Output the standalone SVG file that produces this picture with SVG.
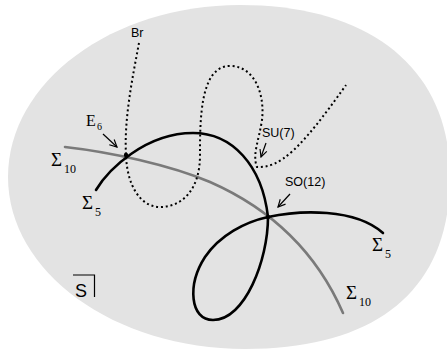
<svg xmlns="http://www.w3.org/2000/svg" width="447" height="352" viewBox="0 0 447 352">
<style>
.bg{fill:#e3e3e3;stroke:none}
.s5{fill:none;stroke:#000;stroke-width:2.6;stroke-linecap:round;stroke-linejoin:round}
.s10{fill:none;stroke:#7a7a7a;stroke-width:2.6;stroke-linecap:round}
.br{fill:none;stroke:#000;stroke-width:2;stroke-dasharray:2 2.8}
.arr{fill:none;stroke:#000;stroke-width:1.2}
.sig{font-family:"Liberation Serif",serif;font-size:19px;fill:#000}
.sub{font-family:"Liberation Serif",serif;font-size:12px;fill:#000}
.lab{font-family:"Liberation Sans",Arial,sans-serif;font-size:12.5px;fill:#000}
</style>
<defs>
<marker id="ah" viewBox="0 0 10 10" refX="9" refY="5" markerWidth="9" markerHeight="9" markerUnits="userSpaceOnUse" orient="auto">
<path d="M1,1 L9,5 L1,9" fill="none" stroke="#000" stroke-width="1.3"/>
</marker>
</defs>
<path class="bg" d="M8,177 C8,82 112,5 240,5 C372,5 450,70 450,177 C450,289 378,349 245,349 C114,349 8,272 8,177 Z"/>
<g id="connectors">
<path id="sigma10" class="s10" d="M65,147 C110,152 170,165 210,182 C260,204 312,242 343,313"/>
<path id="sigma5" class="s5" d="M96,190 C108,170 145,133 193,133 C232,133 262,165 268,217 C268,260 245,320 213,320 C190,320 187,285 205,257 C220,235 245,222 268,217 C300,210 355,208 383,233"/>
<path id="brane" class="br" d="M139,43 C132,80 124,120 126,155 C127,185 140,207 160,207 C182,207 200,190 200,155 C200,120 200,66 230,66 C255,66 265,95 262,120 C259,140 252,155 257,167 C280,168 300,150 346,85"/>
<circle cx="126" cy="155" r="2.2" fill="#000"/>
<circle cx="268" cy="217" r="2.2" fill="#000"/>
<path class="arr" marker-end="url(#ah)" d="M103,134 L117,147"/>
<path class="arr" marker-end="url(#ah)" d="M266,143 L261,157"/>
<path class="arr" marker-end="url(#ah)" d="M290,194 L278,207"/>
</g>
<g id="E6"><text class="sig" x="86" y="126" style="font-size:16px">E</text><text class="sub" x="97" y="130" style="font-size:10px">6</text></g>
<g id="Br"><text class="lab" x="131" y="37">Br</text></g>
<g id="SU7"><text class="lab" x="262" y="137">SU(7)</text></g>
<g id="SO12"><text class="lab" x="285" y="186">SO(12)</text></g>
<g id="sigma10-left"><text class="sig" x="51" y="166">Σ</text><text class="sub" x="64" y="173">10</text></g>
<g id="sigma5-left"><text class="sig" x="82" y="209">Σ</text><text class="sub" x="95" y="216">5</text></g>
<g id="sigma5-right"><text class="sig" x="372" y="251">Σ</text><text class="sub" x="385" y="258">5</text></g>
<g id="sigma10-right"><text class="sig" x="346" y="299">Σ</text><text class="sub" x="359" y="306">10</text></g>
<g id="S"><path d="M73,275 L94.5,275 L94.5,297" fill="none" stroke="#000" stroke-width="1.2"/><text x="75" y="297" style="font-family:'Liberation Sans',Arial,sans-serif;font-size:18px">S</text></g>
</svg>
